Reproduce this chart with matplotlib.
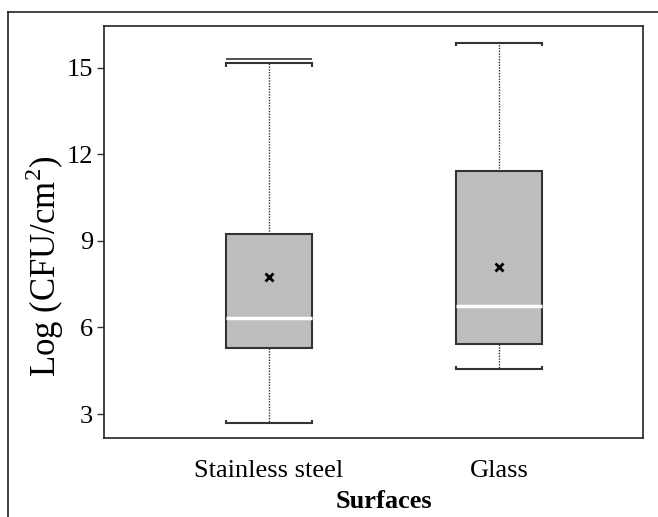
import matplotlib
matplotlib.use("Agg")
import matplotlib.pyplot as plt
from matplotlib.lines import Line2D

# Box summary per surface (log CFU/cm2)
surfaces = ["Stainless steel", "Glass"]
whisker_low = [2.68, 4.55]
q1 = [5.28, 5.42]
median = [6.32, 6.74]
mean = [7.74, 8.09]
q3 = [9.23, 11.41]
whisker_high = [15.16, 15.86]
# extra maximum line drawn above the stainless steel cap
ss_max = 15.30

yticks = [3, 6, 9, 12, 15]

plt.rcParams["font.family"] = ["Liberation Serif", "DejaVu Serif"]
plt.rcParams["mathtext.fontset"] = "custom"
plt.rcParams["mathtext.rm"] = "Liberation Serif"

fig = plt.figure(figsize=(6.58, 5.17), dpi=100)
ax = fig.add_axes([104 / 658, 79 / 517, 539 / 658, 412 / 517])

positions = [1, 2]
width = 0.374
stats = []
for i, name in enumerate(surfaces):
    stats.append({
        "label": name,
        "whislo": whisker_low[i], "q1": q1[i], "med": median[i],
        "q3": q3[i], "whishi": whisker_high[i], "mean": mean[i], "fliers": [],
    })

ax.bxp(stats, positions=positions, widths=width, patch_artist=True,
       showmeans=True, capwidths=width,
       boxprops=dict(facecolor="#bdbdbd", edgecolor="#333333", linewidth=1.5),
       medianprops=dict(color="white", linewidth=2.5),
       whiskerprops=dict(color="#333333", linestyle=(0, (1, 1)), linewidth=1.0),
       capprops=dict(color="#333333", linewidth=1.5),
       meanprops=dict(marker="x", markeredgecolor="black", markersize=6, markeredgewidth=2))

# small bracket ends on the caps, pointing toward the box
tick_len = 0.12
for i, p in enumerate(positions):
    for x in (p - width / 2, p + width / 2):
        ax.vlines(x, whisker_high[i] - tick_len, whisker_high[i], color="#333333", linewidth=1.5)
        ax.vlines(x, whisker_low[i], whisker_low[i] + tick_len, color="#333333", linewidth=1.5)

ax.hlines(ss_max, positions[0] - width / 2, positions[0] + width / 2, color="#333333", linewidth=1.2)

ax.set_xlim(0.283, 2.625)
ax.set_ylim(2.17, 16.45)
ax.set_yticks(yticks)
ax.set_xticks(positions)
ax.set_xticklabels(surfaces)
ax.tick_params(axis="y", labelsize=19, length=5, width=1, color="#333333", pad=3)
ax.tick_params(axis="x", labelsize=19, length=0, pad=16)
for s in ax.spines.values():
    s.set_color("#222222")
    s.set_linewidth(1.2)

fig.text(384 / 658, 1 - 501 / 517, "Surfaces", ha="center", va="center",
         fontsize=19, fontweight="bold")
fig.text(45 / 658, 1 - 266 / 517, r"Log (CFU/cm$^{2}$)", ha="center", va="center",
         rotation=90, fontsize=25)

# outer frame around the figure panel
fig.add_artist(Line2D([8 / 658, 8 / 658], [0, 1 - 12 / 517], transform=fig.transFigure,
                      color="#222222", linewidth=1.2))
fig.add_artist(Line2D([8 / 658, 1], [1 - 12 / 517, 1 - 12 / 517], transform=fig.transFigure,
                      color="#222222", linewidth=1.2))

fig.savefig("out.png", dpi=100)
